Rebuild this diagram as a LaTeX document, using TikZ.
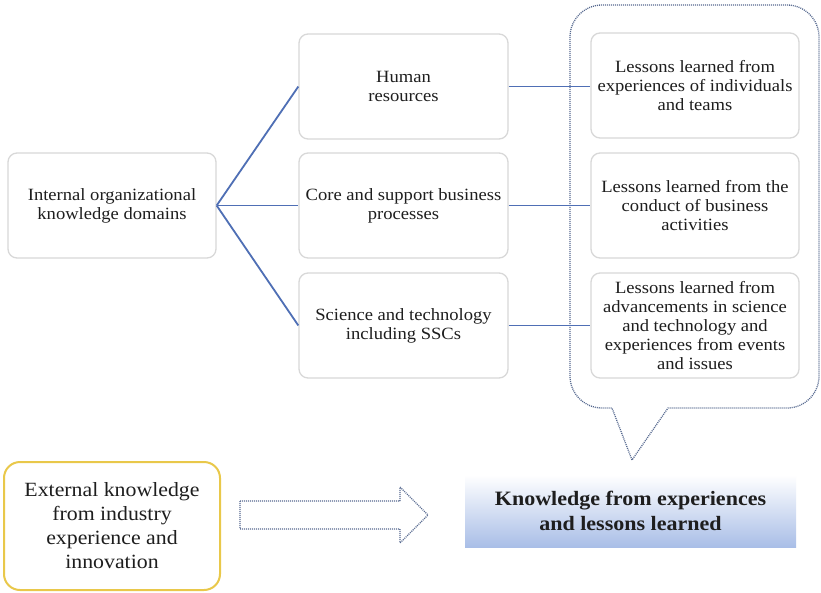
\documentclass[tikz,border=0pt]{standalone}
\usepackage{fontspec}
\setmainfont[FakeStretch=1.08]{Liberation Serif}
\definecolor{lineblue}{HTML}{4F6FB5}
\definecolor{boxgray}{HTML}{D8D8D8}
\definecolor{dotblue}{HTML}{55688F}
\definecolor{ygold}{HTML}{E9C84A}
\definecolor{kblue}{HTML}{A9BEE7}
\definecolor{txt}{HTML}{1E1E1E}
\begin{document}
\begin{tikzpicture}[x=1pt,y=-1pt,
  gbox/.style={draw=boxgray, line width=1.3pt, rounded corners=9pt, align=center, text=txt,
     font=\fontsize{17.2}{19}\selectfont, inner sep=0pt},
  conn/.style={draw=lineblue, line width=1.8pt}]
\useasboundingbox (0,0) rectangle (821,592);
\fill[white] (0,0) rectangle (821,592);

% callout
\draw[dotblue, line width=1.3pt, dash pattern=on 1pt off 1pt]
  (632,460) -- (612,408) [rounded corners=32pt] -- (570,408) -- (570,5) -- (819,5) -- (819,408) [sharp corners] -- (668,408) -- cycle;

% left node
\node[gbox, minimum width=208pt, minimum height=105pt] (int) at (112,205.5) {Internal organizational\\knowledge domains};

% middle nodes
\node[gbox, minimum width=209pt, minimum height=105pt] (hr) at (403.5,86.5) {Human\\resources};
\node[gbox, minimum width=209pt, minimum height=105pt] (core) at (403.5,205.5) {Core and support business\\processes};
\node[gbox, minimum width=209pt, minimum height=105pt] (sci) at (403.5,325.5) {Science and technology\\including SSCs};

% right nodes
\node[gbox, minimum width=208pt, minimum height=105pt] (l1) at (695,85.5) {Lessons learned from\\experiences of individuals\\and teams};
\node[gbox, minimum width=208pt, minimum height=105pt] (l2) at (695,205.5) {Lessons learned from the\\conduct of business\\activities};
\node[gbox, minimum width=208pt, minimum height=105pt] (l3) at (695,325.5) {Lessons learned from\\advancements in science\\and technology and\\experiences from events\\and issues};

% connectors
\draw[conn] (int.east) -- (hr.west);
\draw[conn] (int.east) -- (core.west);
\draw[conn] (int.east) -- (sci.west);
\draw[conn] (hr.east) -- (l1.west |- hr.east);
\draw[conn] (core.east) -- (l2.west |- core.east);
\draw[conn] (sci.east) -- (l3.west |- sci.east);

% external box
\node[draw=ygold, line width=2pt, rounded corners=16pt, minimum width=216pt, minimum height=128pt,
  align=center, text=txt, font=\fontsize{20.2}{24}\selectfont, inner sep=0pt] (ext) at (112,526) {External knowledge\\from industry\\experience and\\innovation};

% block arrow
\coordinate (arrS) at (240,515);
\coordinate (arrT) at (428,515);
\draw[dotblue, line width=1.3pt, dash pattern=on 1pt off 1pt]
  (arrS) ++(0,-14) -- (400,501) -- (400,487) -- (arrT) -- (400,543) -- (400,529) -- (240,529) -- cycle;

% knowledge box
\node[top color=white, bottom color=kblue, minimum width=331pt, minimum height=72pt, align=center,
  text=txt, font=\bfseries\fontsize{20.4}{25}\selectfont, inner sep=0pt] (kn) at (630.5,511) {Knowledge from experiences\\and lessons learned};
\end{tikzpicture}
\end{document}
